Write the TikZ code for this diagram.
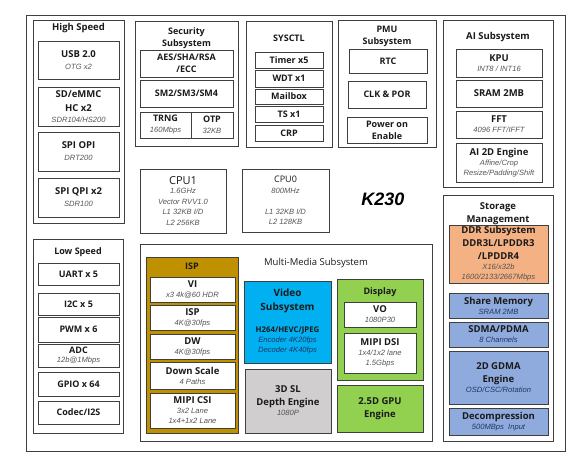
\documentclass[tikz,border=0pt]{standalone}
\usepackage{fontspec}
\setmainfont{Open Sans}
\newfontfamily\specfont{Liberation Sans}

\definecolor{edge}{HTML}{3F3F3F}
\definecolor{ink}{HTML}{1A1A1A}
\definecolor{specgray}{HTML}{555555}
\definecolor{specblue}{HTML}{1F3864}
\definecolor{ispgold}{HTML}{BF9000}
\definecolor{videoblue}{HTML}{00B0F0}
\definecolor{depthgray}{HTML}{D0CECE}
\definecolor{dispgreen}{HTML}{92D050}
\definecolor{ddrorange}{HTML}{F4B183}
\definecolor{memblue}{HTML}{8FAADC}

\newcommand{\spec}[2][specgray]{{\specfont\mdseries\itshape\fontsize{7.6}{8}\selectfont\color{#1}#2}}

\tikzset{
  blk/.style={draw=edge, line width=1pt, inner sep=0pt, align=center, text=ink,
    font=\bfseries\fontsize{9.5}{11}\selectfont},
  group/.style={draw=edge, line width=1pt, inner sep=0pt},
  title/.style={inner sep=0pt, align=center, text=ink,
    font=\bfseries\fontsize{9.5}{13}\selectfont},
  small/.style={font=\bfseries\fontsize{9}{12}\selectfont},
}

\begin{document}
\begin{tikzpicture}[x=1pt, y=-1pt]
\useasboundingbox (0,0) rectangle (579,458);

% outer frame and groups
\node[group, line width=0.8pt, minimum width=539, minimum height=436] (chip) at (295.5,233) {};
\node[group, minimum width=91, minimum height=203] (hs) at (78.5,121.5) {};
\node[group, minimum width=103, minimum height=125] (sec) at (186.5,83.5) {};
\node[group, minimum width=86, minimum height=126] (sysctl) at (289,84) {};
\node[group, minimum width=98, minimum height=127] (pmu) at (387,83.5) {};
\node[group, minimum width=110, minimum height=167] (ai) at (498,103.5) {};
\node[group, minimum width=110, minimum height=246] (stor) at (498,318) {};
\node[group, minimum width=90, minimum height=194] (ls) at (78,336) {};
\node[group, minimum width=292, minimum height=197] (mm) at (286,342.5) {};
\node[group, fill=ispgold, minimum width=92, minimum height=176] (isp) at (192,345) {};
\node[group, fill=dispgreen, minimum width=86, minimum height=101] (disp) at (380,329.5) {};

% High Speed
\node[title] (hs-t) at (78.5,28) {High Speed};
\node[blk, minimum width=81, minimum height=38] (usb) at (78.5,60) {USB 2.0\\[1pt]\spec{OTG x2}};
\node[blk, minimum width=81, minimum height=39] (sd) at (78.5,106.5) {SD/eMMC\\[3pt]HC x2\\\spec{SDR104/HS200}};
\node[blk, minimum width=81, minimum height=39] (opi) at (78.5,151.5) {SPI OPI\\[1pt]\spec{DRT200}};
\node[blk, minimum width=81, minimum height=39] (qpi) at (78.5,197.5) {SPI QPI x2\\[1pt]\spec{SDR100}};

% Security
\node[title, small] (sec-t) at (186.5,38) {Security\\Subsystem};
\node[blk, small, minimum width=93, minimum height=27] (aes) at (186.5,63.5) {AES/SHA/RSA\\/ECC};
\node[blk, small, minimum width=93, minimum height=27] (sm) at (186.5,93.5) {SM2/SM3/SM4};
\node[blk, small, minimum width=51, minimum height=26] (trng) at (165.5,125) {TRNG\\[-1pt]\spec{160Mbps}};
\node[blk, small, minimum width=42, minimum height=26] (otp) at (212,125) {OTP\\[-1pt]\spec{32KB}};

% SYSCTL
\node[title, small] (sysctl-t) at (289,38) {SYSCTL};
\node[blk, small, minimum width=68, minimum height=16] (timer) at (289,60) {Timer x5};
\node[blk, small, minimum width=68, minimum height=17] (wdt) at (289,78.5) {WDT x1};
\node[blk, small, minimum width=68, minimum height=15] (mailbox) at (289,96.5) {Mailbox};
\node[blk, small, minimum width=68, minimum height=16] (ts) at (289,114) {TS x1};
\node[blk, small, minimum width=68, minimum height=16] (crp) at (289,133) {CRP};

% PMU
\node[title, small] (pmu-t) at (387,36) {PMU\\Subsystem};
\node[blk, small, minimum width=78, minimum height=24] (rtc) at (388,61) {RTC};
\node[blk, small, minimum width=78, minimum height=27] (clk) at (387,94.5) {CLK \& POR};
\node[blk, small, minimum width=80, minimum height=26] (pwr) at (387,130) {Power on\\Enable};

% AI
\node[title] (ai-t) at (498,37) {AI Subsystem};
\node[blk, minimum width=86, minimum height=28] (kpu) at (499,63) {KPU\\[-1pt]\spec{INT8 / INT16}};
\node[blk, minimum width=86, minimum height=27] (sram) at (499,93.5) {SRAM 2MB};
\node[blk, minimum width=86, minimum height=27] (fft) at (499,124.5) {FFT\\[-1pt]\spec{4096 FFT/IFFT}};
\node[blk, minimum width=86, minimum height=39] (ai2d) at (499,162.5) {AI 2D Engine\\[-1pt]\spec{Affine/Crop}\\[-1pt]\spec{Resize/Padding/Shift}};

\node[inner sep=0pt, font=\specfont\bfseries\itshape\fontsize{18}{20}\selectfont] (k230) at (383,199) {K230};

% CPUs
\node[group, minimum width=86, minimum height=64, align=center, text=ink,
  font=\fontsize{11}{10.5}\selectfont] (cpu1) at (183,201)
  {CPU1\\[-1pt]\spec{1.6GHz}\\\spec{Vector RVV1.0}\\\spec{L1 32KB I/D}\\\spec{L2 256KB}};
\node[group, minimum width=87, minimum height=63, align=center, text=ink,
  font=\fontsize{9}{10.5}\selectfont] (cpu0) at (285.5,200.5)
  {CPU0\\\spec{800MHz}\\~\\\spec{L1 32KB I/D}\\\spec{L2 128KB}};

% Storage
\node[title] (stor-t) at (498,213.5) {Storage\\Management};
\node[blk, fill=ddrorange, minimum width=99, minimum height=58] (ddr) at (498.5,254)
  {DDR Subsystem\\[2pt]DDR3L/LPDDR3\\[2pt]/LPDDR4\\[-1pt]\spec{X16/x32b}\\[-1pt]\spec{1600/2133/2667Mbps}};
\node[blk, fill=memblue, minimum width=99, minimum height=25] (shm) at (498.5,305.5) {Share Memory\\[-1pt]\spec[specblue]{SRAM 2MB}};
\node[blk, fill=memblue, minimum width=99, minimum height=25] (sdma) at (498.5,334.5) {SDMA/PDMA\\[-1pt]\spec[specblue]{8 Channels}};
\node[blk, fill=memblue, minimum width=99, minimum height=53] (gdma) at (498.5,377.5) {2D GDMA\\[2pt]Engine\\[-1pt]\spec[specblue]{OSD/CSC/Rotation}};
\node[blk, fill=memblue, minimum width=99, minimum height=27] (dec) at (498.5,421.5) {Decompression\\[-1pt]\spec[specblue]{500MBps~~Input}};

% Low Speed
\node[title, small] (ls-t) at (78,252) {Low Speed};
\node[blk, small, minimum width=81, minimum height=22] (uart) at (78.5,274) {UART x 5};
\node[blk, small, minimum width=81, minimum height=22] (i2c) at (78.5,304) {I2C x 5};
\node[blk, small, minimum width=81, minimum height=25] (pwm) at (78.5,329.5) {PWM x 6};
\node[blk, small, minimum width=81, minimum height=23] (adc) at (78.5,355.5) {ADC\\[-3pt]\spec{12b@1Mbps}};
\node[blk, small, minimum width=81, minimum height=24] (gpio) at (78.5,384) {GPIO x 64};
\node[blk, small, minimum width=81, minimum height=23] (codec) at (78.5,412.5) {Codec/I2S};

% Multi-Media
\node[title, font=\fontsize{9.5}{12}\selectfont] (mm-t) at (316,263) {Multi-Media Subsystem};
\node[title, small] (isp-t) at (192,266) {ISP};
\node[blk, fill=white, minimum width=85, minimum height=25] (vi) at (192.5,289.5) {VI\\[-1pt]\spec{x3 4k@60 HDR}};
\node[blk, fill=white, minimum width=85, minimum height=25] (ispi) at (192.5,317.5) {ISP\\[-1pt]\spec{4K@30fps}};
\node[blk, fill=white, minimum width=85, minimum height=25] (dw) at (192.5,346.5) {DW\\[-1pt]\spec{4K@30fps}};
\node[blk, fill=white, minimum width=85, minimum height=27] (ds) at (192.5,375.5) {Down Scale\\[-1pt]\spec{4 Paths}};
\node[blk, fill=white, minimum width=85, minimum height=35] (csi) at (192.5,410.5) {MIPI CSI\\[-1pt]\spec{3x2 Lane}\\[-1pt]\spec{1x4+1x2 Lane}};

\node[blk, fill=videoblue, minimum width=87, minimum height=82] (video) at (287.5,322) {};
\node[title, font=\bfseries\fontsize{10}{14}\selectfont] (video-t) at (287.5,301) {Video\\Subsystem};
\node[title, font=\bfseries\fontsize{7.8}{10}\selectfont] (video-s) at (287.5,340)
  {H264/HEVC/JPEG\\\spec[specblue]{Encoder 4K20fps}\\\spec[specblue]{Decoder 4K40fps}};
\node[blk, fill=depthgray, minimum width=86, minimum height=64] (depth) at (288,401)
  {3D SL\\[2pt]Depth Engine\\[-1pt]\spec{1080P}};

\node[title, small] (disp-t) at (380,292) {Display};
\node[blk, fill=white, minimum width=72, minimum height=25] (vo) at (380,314.5) {VO\\[-1pt]\spec{1080P30}};
\node[blk, fill=white, minimum width=72, minimum height=40] (dsi) at (380,353) {MIPI DSI\\[-1pt]\spec{1x4/1x2 lane}\\[-1pt]\spec{1.5Gbps}};
\node[blk, fill=dispgreen, minimum width=86, minimum height=47] (gpu) at (380,408.5) {2.5D GPU\\[2pt]Engine};
\end{tikzpicture}
\end{document}
